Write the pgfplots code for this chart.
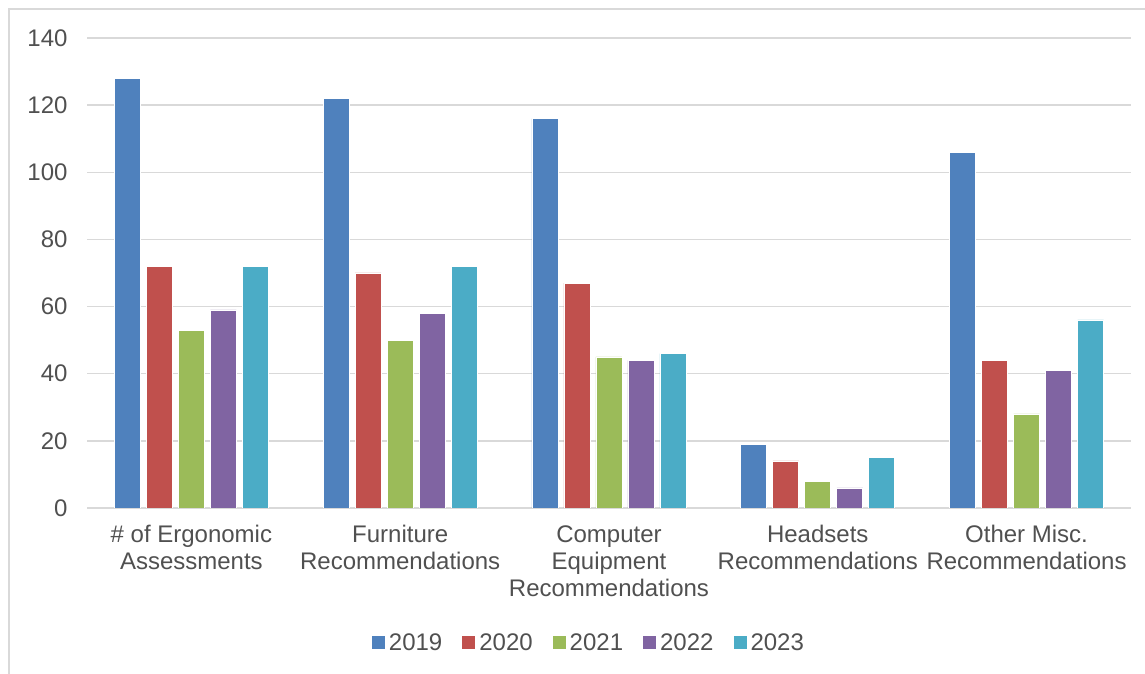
\documentclass[border=0pt]{standalone}
\usepackage{pgfplots}
\pgfplotsset{compat=1.18}
\usepackage{fontspec}
\setmainfont{Liberation Sans}
\definecolor{cA}{HTML}{4F81BD}
\definecolor{cB}{HTML}{C0504D}
\definecolor{cC}{HTML}{9BBB59}
\definecolor{cD}{HTML}{8064A2}
\definecolor{cE}{HTML}{4BACC6}
\definecolor{txt}{HTML}{505050}
\definecolor{grd}{HTML}{D9D9D9}
\begin{document}
\begin{tikzpicture}
\useasboundingbox (0,0) rectangle (1145pt,674pt);
\draw[grd, line width=1.5pt] (9pt,0) -- (9pt,665pt) -- (1145pt,665pt);
\begin{axis}[
  scale only axis,
  width=1044pt, height=470pt,
  at={(87pt,166pt)}, anchor=south west,
  ybar=6pt, bar width=26pt,
  ymin=0, ymax=140, ytick={0,20,...,140},
  xmin=-0.5, xmax=4.5,
  xtick={0,1,2,3,4},
  xticklabels={{\# of Ergonomic\\Assessments},{Furniture\\Recommendations},{Computer\\Equipment\\Recommendations},{Headsets\\Recommendations},{Other Misc.\\Recommendations}},
  axis x line*=bottom,
  axis y line*=left,
  x axis line style={grd, line width=1.5pt, -},
  y axis line style={draw=none},
  ymajorgrids, grid style={grd, line width=1.5pt},
  major tick length=0pt,
  tick style={draw=none},
  /pgf/number format/assume math mode=true,
  ticklabel style={font=\fontsize{24}{27}\selectfont, text=txt},
  xticklabel style={align=center, yshift=-14pt},
  yticklabel style={xshift=-16pt},
  legend columns=5,
  legend style={at={(0.4808,-0.287)}, anchor=center, draw=none, fill=none,
    font=\fontsize{24}{27}\selectfont, text=txt,
    /tikz/every even column/.append style={column sep=18pt},
    /tikz/every odd column/.append style={column sep=2pt}},
  legend image code/.code={\fill[#1, draw=none] (0pt,-6.5pt) rectangle (13pt,6.5pt);},
  every axis plot/.append style={draw=white, line width=0.6pt},
]
\addplot[fill=cA] coordinates {(0,128) (1,122) (2,116) (3,19) (4,106)};
\addplot[fill=cB] coordinates {(0,72) (1,70) (2,67) (3,14) (4,44)};
\addplot[fill=cC] coordinates {(0,53) (1,50) (2,45) (3,8) (4,28)};
\addplot[fill=cD] coordinates {(0,59) (1,58) (2,44) (3,6) (4,41)};
\addplot[fill=cE] coordinates {(0,72) (1,72) (2,46) (3,15) (4,56)};
\legend{2019,2020,2021,2022,2023}
\end{axis}
\end{tikzpicture}
\end{document}
